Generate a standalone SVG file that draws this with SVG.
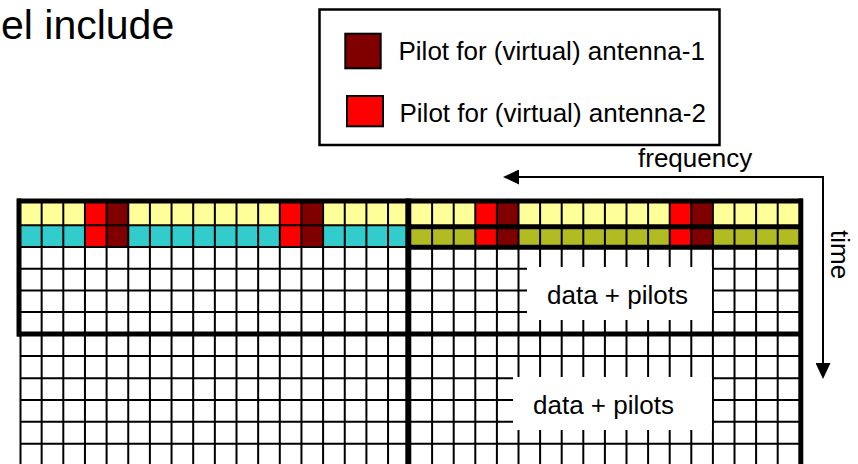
<svg xmlns="http://www.w3.org/2000/svg" width="858" height="464" viewBox="0 0 858 464">
  <style>
    text { font-family: "Liberation Sans", Arial, sans-serif; fill: #000; }
    .thin { stroke: #000; stroke-width: 2; fill: none; }
    .thick { stroke: #000; stroke-width: 5; fill: none; }
    .yel { fill: #FFFF99; }
    .cya { fill: #33CCCC; }
    .oli { fill: #B2BB22; }
    .red { fill: #FF0000; }
    .drd { fill: #800000; }
    .box { fill: #FFFFFF; }
    .lbl { font-size: 26px; }
    .arrow { stroke: #000; stroke-width: 2; fill: none; }
  </style>
  <defs>
    <marker id="ah" markerUnits="userSpaceOnUse" markerWidth="16" markerHeight="15" refX="0" refY="7.5" orient="auto-start-reverse" viewBox="0 0 16 15">
      <path d="M0,0 L16,7.5 L0,15 z" fill="#000"/>
    </marker>
  </defs>

  <rect width="858" height="464" fill="#FFFFFF"/>

  <g id="title">
    <text x="1" y="39" style="font-size:41px">el include</text>
  </g>

  <g id="legend">
    <rect x="319.5" y="9.5" width="400" height="135.5" fill="#FFFFFF" stroke="#000" stroke-width="2.5"/>
    <rect x="345.3" y="33.7" width="35.4" height="34.6" class="drd" stroke="#000" stroke-width="2"/>
    <rect x="347" y="96" width="36" height="30.3" class="red" stroke="#000" stroke-width="2"/>
    <text class="lbl" x="398.5" y="60">Pilot for (virtual) antenna-1</text>
    <text class="lbl" x="399.5" y="122">Pilot for (virtual) antenna-2</text>
  </g>

  <g id="grid">
    <!-- colored rows, left half -->
    <rect class="yel" x="20" y="201" width="388" height="24.2"/>
    <rect class="cya" x="20" y="225.2" width="388" height="21.8"/>
    <!-- colored rows, right half -->
    <rect class="yel" x="408" y="201" width="392" height="25.7"/>
    <rect class="oli" x="408" y="226.7" width="392" height="20.3"/>
    <!-- pilot cells -->
    <rect class="red" x="84.95" y="201" width="21.65" height="46"/>
    <rect class="drd" x="106.6" y="201" width="21.65" height="46"/>
    <rect class="red" x="279.8" y="201" width="21.65" height="46"/>
    <rect class="drd" x="301.45" y="201" width="21.65" height="46"/>
    <rect class="red" x="475.3" y="201" width="21.6" height="46"/>
    <rect class="drd" x="496.9" y="201" width="21.6" height="46"/>
    <rect class="red" x="669.7" y="201" width="21.6" height="46"/>
    <rect class="drd" x="691.3" y="201" width="21.6" height="46"/>

    <!-- thin grid lines -->
    <path class="thin" d="M41.65 201V470M63.3 201V470M84.95 201V470M106.6 201V470M128.25 201V470M149.9 201V470M171.55 201V470M193.2 201V470M214.85 201V470M236.5 201V470M258.15 201V470M279.8 201V470M301.45 201V470M323.1 201V470M344.75 201V470M366.4 201V470M388.05 201V470
      M432.1 201V470M453.7 201V470M475.3 201V470M496.9 201V470M518.5 201V470M540.1 201V470M561.7 201V470M583.3 201V470M604.9 201V470M626.5 201V470M648.1 201V470M669.7 201V470M691.3 201V470M712.9 201V470M734.5 201V470M756.1 201V470M777.7 201V470
      M20 225.2H408M20 247H408M20 268.7H800M20 290.4H800M20 312.1H800M20 356H800M20 378.3H800M20 400H800M20 421.7H800M20 443.7H800
      M20.5 334V470"/>

    <!-- label backgrounds -->
    <rect class="box" x="527" y="267" width="185" height="53"/>
    <rect class="box" x="513" y="377" width="199" height="53"/>

    <!-- thick block borders -->
    <path class="thick" d="M17 201H803M17 334H803M408 226.7H803M408 247.2H803"/>
    <path class="thick" d="M19 198.5V336.5M800.8 198.5V470" />
    <path stroke="#000" stroke-width="6" fill="none" d="M408.3 198.5V470"/>

    <text class="lbl" x="547" y="303.5">data + pilots</text>
    <text class="lbl" x="533" y="413.5">data + pilots</text>
  </g>

  <g id="connectors">
    <path class="arrow" d="M519 177H823V363" marker-start="url(#ah)" marker-end="url(#ah)"/>
  </g>

  <g id="axis-labels">
    <text class="lbl" x="638" y="166.5">frequency</text>
    <text class="lbl" transform="translate(830.5 230) rotate(90)">time</text>
  </g>
</svg>
